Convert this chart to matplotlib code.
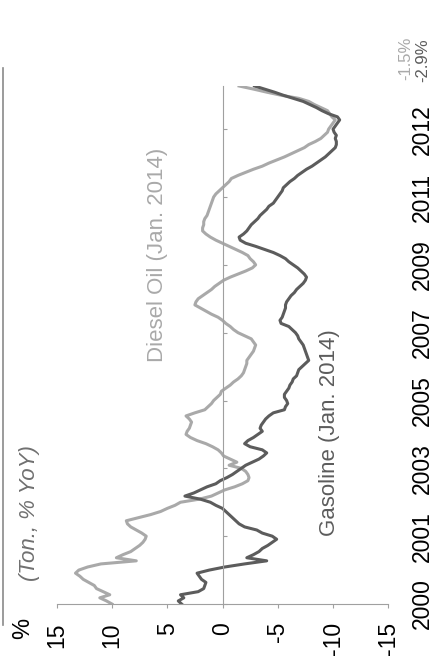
import matplotlib
matplotlib.use("Agg")
import matplotlib.pyplot as plt
from matplotlib.lines import Line2D

# Monthly year-on-year change in fuel sales (tons), Jan 2000 - Jan 2014
gasoline = [
    3.7, 4.0, 3.5, 3.8, 2.2, 1.7, 1.6, 1.5, 1.9, 2.1, 2.3, 1.2,
    -0.2, -2.0, -4.0, -2.2, -2.8, -3.3, -3.6, -4.1, -4.5, -4.9, -4.5, -3.6,
    -3.1, -2.0, -1.5, -1.2, -0.9, -0.6, -0.3, 0.0, 0.6, 1.1, 2.0, 3.4,
    2.6, 2.0, 1.4, 0.6, 0.2, -0.4, -0.9, -1.3, -1.7, -2.1, -2.7, -3.3,
    -3.7, -4.0, -3.6, -2.5, -2.0, -2.3, -2.8, -3.2, -3.6, -3.4, -3.5, -3.7,
    -3.9, -4.2, -4.6, -5.6, -5.7, -5.9, -5.8, -5.6, -5.6, -5.8, -6.0, -6.1,
    -6.3, -6.4, -6.7, -6.8, -6.9, -7.2, -7.5, -7.8, -7.7, -7.6, -7.5, -7.4,
    -7.3, -7.1, -6.9, -6.8, -6.6, -6.3, -6.0, -5.3, -5.2, -5.4, -5.5, -5.6,
    -5.7, -5.7, -5.8, -6.0, -6.2, -6.5, -6.7, -7.0, -7.3, -7.5, -7.6, -7.4,
    -7.1, -6.8, -6.4, -6.0, -5.7, -5.2, -4.6, -3.8, -3.0, -2.1, -1.6, -1.5,
    -1.9, -2.2, -2.4, -2.6, -2.9, -3.2, -3.4, -3.7, -4.0, -4.2, -4.6, -4.8,
    -5.0, -5.2, -5.4, -5.5, -5.8, -6.1, -6.5, -6.8, -7.2, -7.6, -8.1, -8.5,
    -8.9, -9.3, -9.6, -9.9, -10.2, -10.3, -10.3, -10.2, -10.3, -10.1, -10.0, -10.2,
    -10.4, -10.6, -10.4, -9.6, -9.0, -8.5, -7.9, -7.3, -6.4, -5.5, -4.7, -3.8,
    -2.9,
]
diesel = [
    10.0, 10.5, 11.1, 10.2, 10.8, 11.4, 11.6, 12.1, 12.6, 12.9, 13.3, 13.0,
    12.2, 11.0, 7.8, 9.6, 9.0, 8.3, 7.9, 7.5, 7.2, 7.0, 6.9, 7.3,
    7.8, 8.3, 8.6, 8.7, 7.6, 6.5, 5.6, 5.0, 4.3, 3.8, 2.1, 1.0,
    0.4, -0.2, -1.1, -1.8, -2.3, -2.4, -2.3, -2.1, -1.7, -0.6, -1.3, -0.7,
    -0.1, 0.1, 0.4, 0.9, 1.5, 2.3, 2.9, 3.3, 3.2, 3.0, 2.9, 2.8,
    3.0, 3.3, 2.5, 1.6, 1.3, 1.0, 0.8, 0.5, 0.2, 0.1, -0.3, -0.7,
    -1.0, -1.4, -1.7, -1.9, -2.0, -2.1, -2.2, -2.2, -2.4, -2.6, -2.8, -2.9,
    -3.0, -2.8, -2.6, -2.0, -1.4, -1.0, -0.7, -0.3, 0.0, 0.4, 1.0, 1.5,
    2.0, 2.5, 2.4, 2.2, 1.8, 1.4, 1.0, 0.7, 0.3, -0.1, -0.7, -1.4,
    -2.1, -2.7, -3.0, -2.8, -2.5, -2.3, -1.8, -1.2, -0.6, 0.0, 0.6, 1.1,
    1.5, 1.8, 1.8, 1.7, 1.7, 1.6, 1.4, 1.3, 1.2, 1.1, 1.0, 0.9,
    0.8, 0.6, 0.3, 0.0, -0.3, -0.6, -0.8, -1.4, -2.1, -2.8, -3.6, -4.2,
    -4.9, -5.6, -6.2, -6.8, -7.4, -7.8, -8.4, -8.9, -9.2, -9.5, -9.6, -9.8,
    -10.0, -10.2, -9.9, -9.7, -9.5, -8.9, -8.3, -7.8, -6.9, -5.3, -4.0, -2.8,
    -1.5,
]
value_ticks = [15, 10, 5, 0, -5, -10, -15]
month_ticks = [0, 22, 44, 66, 88, 110, 132, 154]
year_labels = ["2000", "2001", "2003", "2005", "2007", "2009", "2011", "2012"]
diesel_name = "Diesel Oil (Jan. 2014)"
gasoline_name = "Gasoline (Jan. 2014)"

DIESEL = "#a9a9a9"
GASOLINE = "#5c5c5c"
AXIS = "#a0a0a0"
FONT = "Liberation Sans"

plt.rcParams["font.family"] = [FONT, "DejaVu Sans"]

W, H = 434, 670
fig = plt.figure(figsize=(W / 100, H / 100), dpi=100)


def fx(px):
    return px / W


def fy(py):
    return 1 - py / H


# Chart is laid out sideways: values run across, time runs upward
ax = fig.add_axes([fx(56.7), fy(604), fx(388.3) - fx(56.7), fy(86) - fy(604)])
months = list(range(len(gasoline)))
ax.plot(diesel, months, color=DIESEL, lw=2.2, solid_joinstyle="round")
ax.plot(gasoline, months, color=GASOLINE, lw=2.2, solid_joinstyle="round")

ax.set_xlim(15, -15)
ax.set_ylim(0, len(gasoline) - 1)

for side in ("top", "right"):
    ax.spines[side].set_visible(False)
ax.spines["left"].set_position(("data", 0))
for side in ("left", "bottom"):
    ax.spines[side].set_color(AXIS)
    ax.spines[side].set_linewidth(0.8)

ax.set_xticks(value_ticks)
ax.set_xticklabels([str(v) for v in value_ticks], rotation=90)
ax.tick_params(axis="x", direction="out", length=3, width=0.8, color=AXIS,
               pad=10, labelsize=16.5, labelcolor="black")

ax.set_yticks(month_ticks)
ax.set_yticklabels(year_labels, rotation=90, va="center")
ax.tick_params(axis="y", direction="in", length=3, width=0.8, color=AXIS,
               left=True, right=False, labelleft=False, labelright=True,
               pad=16, labelsize=16.5, labelcolor="black")

# Annotations
fig.text(fx(23), fy(628), "%", rotation=90, ha="center", va="center",
         fontsize=17, color="black")
fig.text(fx(29), fy(513), "(Ton., % YoY)", rotation=90, ha="center",
         va="center", fontsize=16, style="italic", color="#707070")
fig.text(fx(157), fy(255), diesel_name, rotation=90, ha="center",
         va="center", fontsize=16, color=DIESEL)
fig.text(fx(329), fy(433), gasoline_name, rotation=90, ha="center",
         va="center", fontsize=16, color=GASOLINE)

# Latest readings, written beside the ends of the lines
fig.text(fx(406), fy(58), f"{diesel[-1]:.1f}%", rotation=90, ha="center",
         va="center", fontsize=12, color=DIESEL)
fig.text(fx(423), fy(60), f"{gasoline[-1]:.1f}%", rotation=90, ha="center",
         va="center", fontsize=12, color=GASOLINE)

# Rule along the edge of the panel
fig.add_artist(Line2D([fx(3), fx(3)], [fy(68), fy(625)], color="#8a8a8a",
                      lw=1.2, transform=fig.transFigure))

fig.savefig("out.png", dpi=100, facecolor="white")
